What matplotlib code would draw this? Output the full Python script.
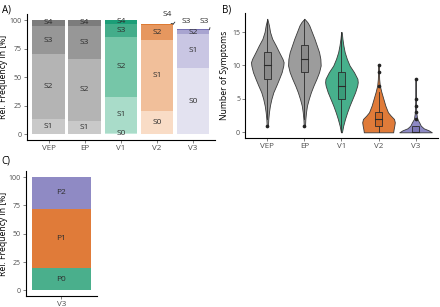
import matplotlib.pyplot as plt
from matplotlib.patches import Rectangle
import numpy as np

plt.rcParams['font.family'] = ['Open Sans', 'DejaVu Sans']

# ---- panel A: relative frequency of symptom classes (%)
groups = ["VEP", "EP", "V1", "V2", "V3"]
levels = ["S0", "S1", "S2", "S3", "S4"]
freq_s0 = [0, 0, 1.5, 20, 58]
freq_s1 = [13, 12, 31.5, 63, 30]
freq_s2 = [57, 54, 52, 13, 3]
freq_s3 = [25, 29, 12, 0.5, 1]
freq_s4 = [5, 5, 3, 0.5, 0]

# ---- panel B: number of symptoms (violin outlines + box stats)
vep_y = [1, 2, 3, 4, 5, 6, 7, 8, 9, 10, 10.5, 11, 12, 13, 14, 15, 16, 17]
vep_w = [0.04, 0.06, 0.1, 0.16, 0.25, 0.37, 0.55, 0.72, 0.88, 0.98, 1.0, 0.93, 0.72, 0.52, 0.3, 0.17, 0.1, 0.0]
ep_y = [1, 2, 3, 4, 5, 6, 7, 8, 9, 10, 11, 12, 13, 14, 15, 16, 16.5, 17]
ep_w = [0.04, 0.06, 0.1, 0.16, 0.27, 0.4, 0.56, 0.74, 0.9, 1.0, 0.98, 0.9, 0.76, 0.62, 0.46, 0.3, 0.18, 0.0]
v1_y = [0, 1, 2, 3, 4, 5, 6, 7, 7.5, 8, 9, 10, 11, 12, 13, 14, 15]
v1_w = [0.03, 0.11, 0.22, 0.35, 0.5, 0.67, 0.84, 0.97, 1.0, 0.98, 0.77, 0.5, 0.33, 0.2, 0.12, 0.06, 0.02]
v2_y = [0, 0.5, 1, 1.5, 2, 2.5, 3, 4, 5, 6, 7, 8, 9, 10]
v2_w = [0.9, 0.93, 0.97, 1.0, 0.95, 0.75, 0.58, 0.42, 0.3, 0.18, 0.08, 0.04, 0.03, 0.02]
v3_y = [0, 0.3, 0.6, 1, 1.5, 2, 3, 4, 5, 6, 7, 8]
v3_w = [1.0, 0.8, 0.5, 0.32, 0.22, 0.1, 0.04, 0.03, 0.02, 0.02, 0.02, 0.02]

box_q1 = [8, 9, 5, 1, 0]
box_med = [10, 11, 7, 2, 0]
box_q3 = [12, 13, 9, 3, 1]
whisk_lo = [2, 2, 0, 0, 0]
whisk_hi = [17, 17, 15, 6, 1]
outliers = [[1], [1], [], [7, 9, 10], [2, 3, 4, 5, 8]]

# ---- panel C
pattern_groups = ["V3"]
patterns = ["P0", "P1", "P2"]
pattern_freq = [20, 52, 28]

bar_colors = {
    "VEP": ["#d9d9d9", "#c9c9c9", "#b4b4b4", "#979797", "#7c7c7c"],
    "EP": ["#d9d9d9", "#c9c9c9", "#b4b4b4", "#979797", "#7c7c7c"],
    "V1": ["#c5e9dc", "#a9dcc9", "#76c6a8", "#44ad8a", "#1b9e77"],
    "V2": ["#f9dcc6", "#f1bf9a", "#e6975f", "#dd7a33", "#d95f02"],
    "V3": ["#e3e2f0", "#c9c6e3", "#a8a4d0", "#7570b3", "#5a559a"],
}
violin_colors = ["#9c9c9c", "#9c9c9c", "#47b08c", "#e07b39", "#8d89c4"]
box_colors = ["#8a8a8a", "#8a8a8a", "#3a9c7a", "#d06a28", "#7c77b6"]
pattern_colors = ["#4aaf8c", "#e07b39", "#8f8ac4"]

TXT = "#2e2e2e"
TICK = "#4d4d4d"


def style(ax, label, label_x):
    for s in ["top", "right"]:
        ax.spines[s].set_visible(False)
    for s in ["left", "bottom"]:
        ax.spines[s].set_linewidth(0.8)
    ax.tick_params(length=2, width=0.5, pad=1.5, labelsize=5, colors=TICK)
    ax.tick_params(axis="x", labelsize=5.8)
    ax.set_ylabel(label, fontsize=6.2)
    ax.yaxis.set_label_coords(label_x, 0.5)


fig = plt.figure(figsize=(4.4, 3.07), dpi=100)

# A)
axA = fig.add_axes([0.061, 0.544, 0.427, 0.409])
stack = np.array([freq_s0, freq_s1, freq_s2, freq_s3, freq_s4])
xs = np.arange(1, len(groups) + 1)
bottom = np.zeros(len(groups))
for li, lev in enumerate(levels):
    vals = stack[li]
    cols = [bar_colors[g][li] for g in groups]
    axA.bar(xs, vals, bottom=bottom, width=0.9, color=cols, linewidth=0)
    for gi in range(len(groups)):
        if vals[gi] > 1:
            axA.text(xs[gi], bottom[gi] + vals[gi] / 2, lev, ha="center", va="center",
                     fontsize=6, color=TXT)
    bottom = bottom + vals

# small segments get repelled labels
repel = [("S4", 4.28, 104.5, 4.45, 96.8, 0.6),
         ("S3", 4.8, 99.0, 4.45, 96.3, 0.5),
         ("S3", 5.32, 99.0, 5.45, 91.5, -0.6)]
for lab, tx, ty, px, py, rad in repel:
    axA.annotate(lab, xy=(px, py), xytext=(tx, ty), ha="center", va="center",
                 fontsize=6, color=TXT, annotation_clip=False,
                 arrowprops=dict(arrowstyle="-", color=TXT, lw=0.6,
                                 shrinkA=3, shrinkB=0,
                                 connectionstyle="arc3,rad=%s" % rad))

axA.set_xlim(0.4, 5.6)
axA.set_ylim(-5, 105)
axA.set_yticks([0, 25, 50, 75, 100])
axA.set_xticks(xs)
axA.set_xticklabels(groups)
style(axA, "Rel. Frequency in [%]", -0.1)

# B)
axB = fig.add_axes([0.557, 0.5505, 0.438, 0.407])
profiles = [(vep_y, vep_w), (ep_y, ep_w), (v1_y, v1_w), (v2_y, v2_w), (v3_y, v3_w)]
for i, (py, pw) in enumerate(profiles):
    x = i + 1
    py = np.array(py)
    hw = np.array(pw) * 0.44
    axB.fill_betweenx(py, x - hw, x + hw, facecolor=violin_colors[i],
                      edgecolor="#3a3a3a", linewidth=0.6, zorder=2)
    axB.plot([x, x], [whisk_lo[i], whisk_hi[i]], color="#2b2b2b", lw=0.6, zorder=3)
    axB.add_patch(Rectangle((x - 0.1, box_q1[i]), 0.2, box_q3[i] - box_q1[i],
                            facecolor=box_colors[i], edgecolor="#2b2b2b",
                            linewidth=0.6, zorder=4))
    axB.plot([x - 0.1, x + 0.1], [box_med[i], box_med[i]], color="#2b2b2b", lw=0.8, zorder=5)
    if outliers[i]:
        axB.scatter([x] * len(outliers[i]), outliers[i], s=7, color="#222222", zorder=6,
                    linewidths=0)
axB.set_xlim(0.4, 5.6)
axB.set_ylim(-0.85, 17.85)
axB.set_yticks([0, 5, 10, 15])
axB.set_xticks(xs)
axB.set_xticklabels(groups)
style(axB, "Number of Symptoms", -0.085)

# C)
axC = fig.add_axes([0.059, 0.0358, 0.161, 0.406])
bot = 0
for p, v, c in zip(patterns, pattern_freq, pattern_colors):
    axC.bar([1], [v], bottom=bot, width=1.0, color=c, linewidth=0)
    axC.text(1, bot + v / 2, p, ha="center", va="center", fontsize=6, color=TXT)
    bot += v
axC.set_xlim(0.4, 1.6)
axC.set_ylim(-5, 105)
axC.set_yticks([0, 25, 50, 75, 100])
axC.set_xticks([1])
axC.set_xticklabels(pattern_groups)
style(axC, "Rel. Frequency in [%]", -0.25)

fig.text(0.004, 0.985, "A)", fontsize=7, va="top", ha="left")
fig.text(0.505, 0.985, "B)", fontsize=7, va="top", ha="left")
fig.text(0.004, 0.495, "C)", fontsize=7, va="top", ha="left")

fig.savefig("out.png", dpi=100)
